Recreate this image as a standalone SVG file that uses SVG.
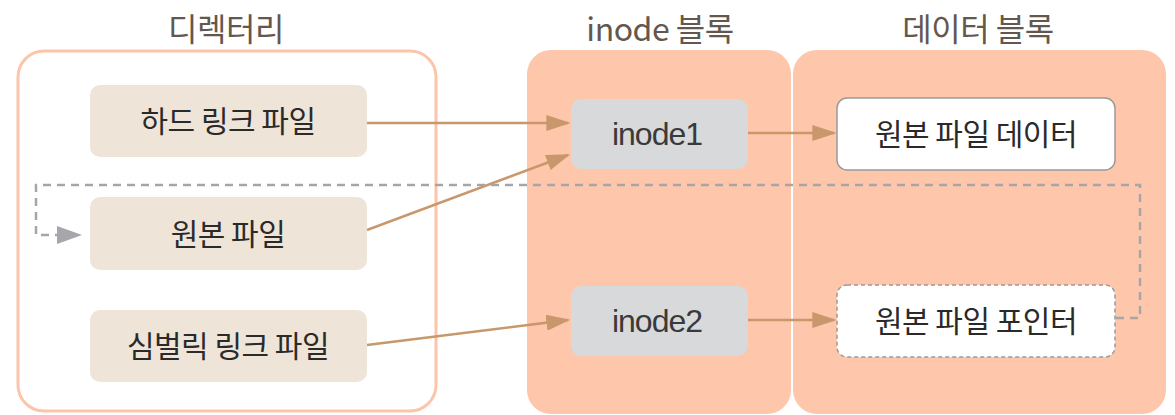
<svg xmlns="http://www.w3.org/2000/svg" width="1175" height="415" viewBox="0 0 1175 415">
<defs>
<style>
.title{font-family:"Noto Sans CJK KR","Liberation Sans",sans-serif;font-size:32px;fill:#64574d;text-anchor:middle;letter-spacing:-0.5px}
.lbl{font-family:"Noto Sans CJK KR","Liberation Sans",sans-serif;font-size:30px;fill:#2a2a2a;text-anchor:middle;letter-spacing:-0.5px}
.ino{font-family:"Liberation Sans","Noto Sans CJK KR",sans-serif;font-size:32px;fill:#3a3a3a;text-anchor:middle;letter-spacing:-1px}
.file{fill:#efe4d8}
.inode{fill:#d8d9db}
.data{fill:#ffffff;stroke:#9a9a9a;stroke-width:1.5}
.ptr{fill:#ffffff;stroke:#9a9a9a;stroke-width:1.5;stroke-dasharray:4 3}
.arr{fill:none;stroke:#c8976b;stroke-width:2.5;marker-end:url(#ah)}
.dash{fill:none;stroke:#a6a6a8;stroke-width:2.5;stroke-dasharray:8 6;marker-end:url(#ahg)}
</style>
<marker id="ah" viewBox="0 0 10 10" refX="9" refY="5" markerWidth="24" markerHeight="16" markerUnits="userSpaceOnUse" orient="auto" preserveAspectRatio="none">
<path d="M0,0 L10,5 L0,10 z" fill="#c8976b"/>
</marker>
<marker id="ahg" viewBox="0 0 10 10" refX="10" refY="5" markerWidth="25" markerHeight="18" markerUnits="userSpaceOnUse" orient="auto" preserveAspectRatio="none">
<path d="M0,0 L10,5 L0,10 z" fill="#a6a6ab"/>
</marker>
</defs>

<g id="containers">
<rect x="18" y="51" width="418" height="360" rx="26" fill="#ffffff" stroke="#fcc5a9" stroke-width="3"/>
<rect x="527" y="50" width="264" height="364" rx="24" fill="#fec6ab"/>
<rect x="793" y="50" width="373" height="364" rx="24" fill="#fec6ab"/>
<text class="title" x="226" y="41">디렉터리</text>
<text class="title" x="660" y="41">inode 블록</text>
<text class="title" x="978" y="41">데이터 블록</text>
</g>

<g id="connectors">
<path class="arr" d="M367,123 L568,123"/>
<path class="arr" d="M367,230 L568,155"/>
<path class="arr" d="M367,345 L568,320"/>
<path class="arr" d="M748,133 L834,133"/>
<path class="arr" d="M748,320 L834,320"/>
<path class="dash" d="M1116,318 L1140,318 L1140,185 L36,185 L36,235 L82,235"/>
</g>

<g id="hard-link">
<rect class="file" x="90" y="85" width="277" height="72" rx="10"/>
<text class="lbl" x="228" y="132">하드 링크 파일</text>
</g>
<g id="original-file">
<rect class="file" x="90" y="197" width="277" height="73" rx="10"/>
<text class="lbl" x="228" y="245">원본 파일</text>
</g>
<g id="symbolic-link">
<rect class="file" x="90" y="310" width="277" height="72" rx="10"/>
<text class="lbl" x="228" y="357">심벌릭 링크 파일</text>
</g>
<g id="inode1">
<rect class="inode" x="571" y="99" width="177" height="70" rx="10"/>
<text class="ino" x="657" y="145">inode1</text>
</g>
<g id="inode2">
<rect class="inode" x="571" y="286" width="177" height="70" rx="10"/>
<text class="ino" x="657" y="332">inode2</text>
</g>
<g id="original-data">
<rect class="data" x="837" y="98" width="278" height="72" rx="10"/>
<text class="lbl" x="976" y="145">원본 파일 데이터</text>
</g>
<g id="original-pointer">
<rect class="ptr" x="837" y="285" width="278" height="72" rx="10"/>
<text class="lbl" x="976" y="332">원본 파일 포인터</text>
</g>
</svg>
